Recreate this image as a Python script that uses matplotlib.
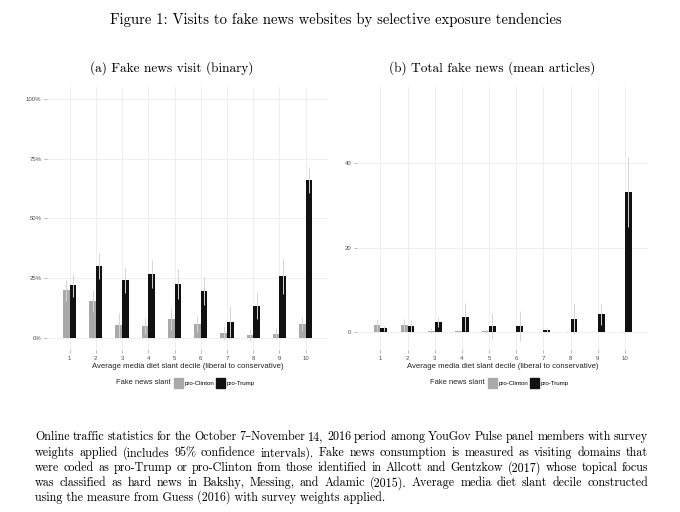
import numpy as np
import matplotlib
matplotlib.use("Agg")
import matplotlib.pyplot as plt
from matplotlib.patches import Patch

# data
deciles = np.arange(1, 11)
clinton_visit = [19.9, 15.7, 5.6, 4.9, 7.9, 5.9, 2.1, 1.1, 1.8, 5.9]
clinton_visit_err = [4.5, 4.6, 5.0, 3.3, 4.6, 3.5, 2.8, 2.5, 2.4, 2.9]
trump_visit = [22.0, 30.2, 24.4, 26.8, 22.7, 19.6, 6.9, 13.6, 25.8, 66.1]
trump_visit_err = [4.8, 5.4, 5.5, 6.0, 6.3, 5.8, 6.4, 5.6, 7.4, 5.3]

clinton_total = [1.7, 1.7, 0.4, 0.3, 0.3, 0.15, 0.1, 0.1, 0.1, 0.15]
clinton_total_err = [1.4, 1.4, 0.5, 0.3, 0.4, 0.2, 0.1, 0.1, 0.1, 0.2]
trump_total = [0.9, 1.5, 2.4, 3.6, 1.5, 1.5, 0.5, 3.2, 4.2, 33.1]
trump_total_err = [0.5, 1.4, 1.2, 3.4, 3.0, 3.6, 0.4, 3.7, 2.5, 8.3]

visit_ticks = [0, 25, 50, 75, 100]
visit_labels = ["0%", "25%", "50%", "75%", "100%"]
total_ticks = [0, 20, 40]

title = "Figure 1: Visits to fake news websites by selective exposure tendencies"
sub_a = "(a) Fake news visit (binary)"
sub_b = "(b) Total fake news (mean articles)"
xlabel = "Average media diet slant decile (liberal to conservative)"
legend_title = "Fake news slant"
series_names = ["pro-Clinton", "pro-Trump"]
caption = [
    "Online traffic statistics for the October 7\u2013November 14, 2016 period among YouGov Pulse panel members with survey",
    "weights applied (includes 95% confidence intervals).  Fake news consumption is measured as visiting domains that",
    "were coded as pro-Trump or pro-Clinton from those identified in Allcott and Gentzkow (2017) whose topical focus",
    "was classified as hard news in Bakshy, Messing, and Adamic (2015).  Average media diet slant decile constructed",
    "using the measure from Guess (2016) with survey weights applied.",
]

GREY = "#a9a9a9"
BLACK = "#111111"
ERR = "#d4d4d4"
GRID = "#ececec"
TICK = "#4d4d4d"
serif = ["cmr10", "DejaVu Serif"]
sans = ["Liberation Sans", "DejaVu Sans"]
plt.rcParams["axes.formatter.use_mathtext"] = True

fig = plt.figure(figsize=(6.8, 5.12), dpi=100)
ax1 = fig.add_axes([47 / 680, 1 - 350 / 512, 281 / 680, 263 / 512])
ax2 = fig.add_axes([357 / 680, 1 - 350 / 512, 291 / 680, 263 / 512])

w = 0.25


def panel(ax, cv, ce, tv, te, ylim, yticks, ylabels):
    ax.bar(deciles - w / 2, cv, width=w, color=GREY, zorder=2)
    ax.bar(deciles + w / 2, tv, width=w, color=BLACK, zorder=2)
    ax.vlines(deciles - w / 2, np.array(cv) - np.array(ce), np.array(cv) + np.array(ce),
              color=ERR, lw=0.7, zorder=3)
    ax.vlines(deciles + w / 2, np.array(tv) - np.array(te), np.array(tv) + np.array(te),
              color=ERR, lw=0.7, zorder=3)
    ax.set_xlim(0.14, 10.85)
    ax.set_ylim(*ylim)
    ax.set_xticks(deciles)
    ax.set_xticklabels([str(d) for d in deciles])
    ax.set_yticks(yticks)
    ax.set_yticklabels(ylabels)
    for s in ax.spines.values():
        s.set_visible(False)
    ax.grid(True, color=GRID, lw=0.6, zorder=0)
    ax.set_axisbelow(True)
    ax.tick_params(length=2, width=0.5, color="#999999", labelsize=4.3,
                   labelcolor=TICK, pad=2)
    for lab in ax.get_xticklabels() + ax.get_yticklabels():
        lab.set_family(sans)
    ax.set_xlabel(xlabel, fontsize=5.6, family=sans, color="#222222", labelpad=1.5)


panel(ax1, clinton_visit, clinton_visit_err, trump_visit, trump_visit_err,
      (-5, 105), visit_ticks, visit_labels)
panel(ax2, clinton_total, clinton_total_err, trump_total, trump_total_err,
      (-4.2, 58), total_ticks, [str(t) for t in total_ticks])

# legends below each panel
handles = [Patch(color=GREY), Patch(color=BLACK)]
for ax, tx in [(ax1, 171 / 680), (ax2, 485 / 680)]:
    fig.text(tx, 1 - 383 / 512, legend_title, ha="right", va="center",
             fontsize=5.4, family=sans, color="#222222")
    fig.legend(handles, series_names, loc="center left",
               bbox_to_anchor=(tx + 3 / 680, 1 - 383 / 512), ncol=2, frameon=False,
               prop={"family": sans, "size": 4.4}, handlelength=1.5,
               handleheight=2.0, handletextpad=0.3, columnspacing=0.2,
               borderpad=0, borderaxespad=0)

fig.text(336 / 680, 1 - 20 / 512, title, ha="center", va="center",
         fontsize=10.6, family=serif)
fig.text(172 / 680, 1 - 68 / 512, sub_a, ha="center", va="center",
         fontsize=9.6, family=serif)
fig.text(492 / 680, 1 - 68 / 512, sub_b, ha="center", va="center",
         fontsize=9.6, family=serif)

# justified caption
cap_size = 8.7
cap_left, cap_right = 35, 648
cap_y = [437, 453, 468, 483, 497]
fig.canvas.draw()
renderer = fig.canvas.get_renderer()
for i, line in enumerate(caption):
    y = 1 - cap_y[i] / 512
    if i == len(caption) - 1:
        fig.text(cap_left / 680, y, line, ha="left", va="center",
                 fontsize=cap_size, family=serif)
        continue
    words = line.split()
    texts = [fig.text(0, y, wd, ha="left", va="center", fontsize=cap_size, family=serif)
             for wd in words]
    widths = [t.get_window_extent(renderer).width for t in texts]
    gap = (cap_right - cap_left - sum(widths)) / (len(words) - 1)
    x = cap_left
    for t, wd in zip(texts, widths):
        t.set_x(x / 680)
        x += wd + gap

fig.savefig("out.png", dpi=100)
